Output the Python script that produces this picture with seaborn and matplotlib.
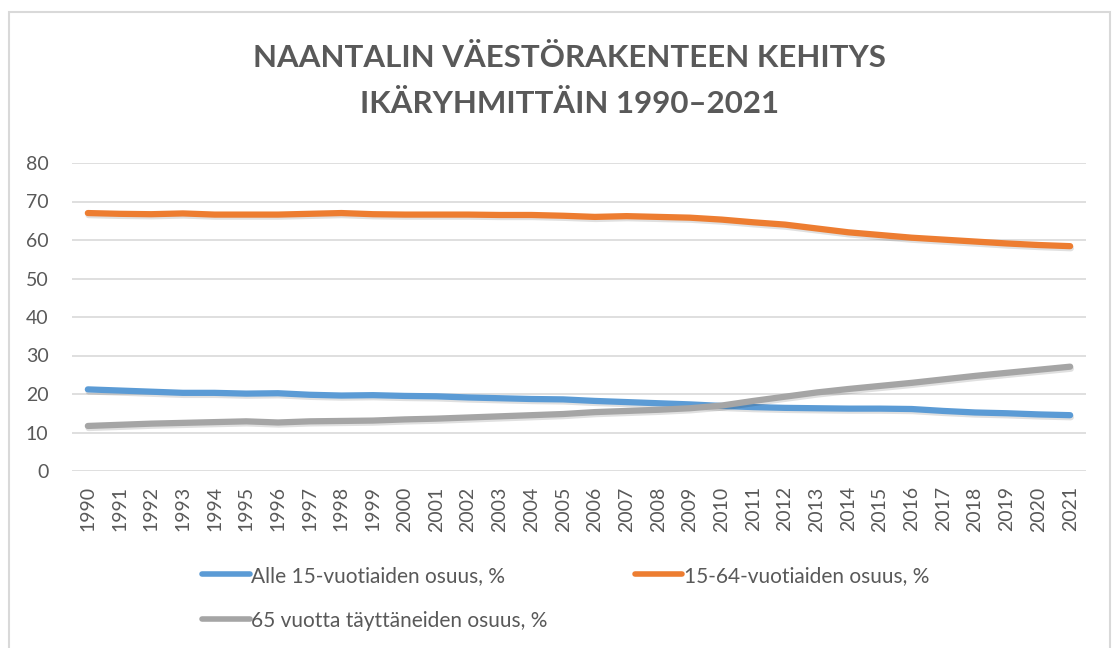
import pandas as pd
import seaborn as sns
import matplotlib.pyplot as plt
import matplotlib.patheffects as pe
from matplotlib.patches import Rectangle

years = list(range(1990, 2022))

alle15 = [21.2, 20.9, 20.6, 20.3, 20.3, 20.1, 20.2, 19.8, 19.6, 19.7, 19.5, 19.4,
          19.1, 18.9, 18.7, 18.6, 18.2, 17.9, 17.6, 17.3, 16.9, 16.6, 16.4, 16.3,
          16.2, 16.2, 16.1, 15.6, 15.2, 15.0, 14.7, 14.5]
v15_64 = [67.0, 66.8, 66.7, 66.9, 66.6, 66.6, 66.6, 66.8, 67.0, 66.7, 66.6, 66.6,
          66.6, 66.5, 66.5, 66.3, 66.0, 66.2, 66.0, 65.8, 65.3, 64.6, 64.0, 63.0,
          62.0, 61.3, 60.6, 60.1, 59.6, 59.1, 58.7, 58.4]
yli65 = [11.7, 12.0, 12.3, 12.5, 12.7, 12.9, 12.6, 12.9, 13.0, 13.1, 13.4, 13.6,
         13.9, 14.2, 14.5, 14.8, 15.3, 15.6, 15.9, 16.3, 17.0, 18.2, 19.3, 20.4,
         21.3, 22.1, 22.9, 23.8, 24.7, 25.5, 26.3, 27.1]

series_names = ["Alle 15-vuotiaiden osuus, %",
                "15-64-vuotiaiden osuus, %",
                "65 vuotta täyttäneiden osuus, %"]
colors = ["#5B9BD5", "#ED7D31", "#A5A5A5"]

df = pd.DataFrame({"vuosi": years * 3,
                   "osuus": alle15 + v15_64 + yli65,
                   "sarja": sum([[n] * len(years) for n in series_names], [])})

sns.set_style("white")
plt.rcParams['font.family'] = ['Lato', 'DejaVu Sans']
txt = "#595959"

fig = plt.figure(figsize=(11.16, 6.48), dpi=100)
fig.patches.append(Rectangle((9 / 1116, -0.01), 1101 / 1116, 1 - 12 / 648 + 0.01,
                             transform=fig.transFigure, fill=False,
                             edgecolor="#D9D9D9", linewidth=1.5))
ax = fig.add_axes([72 / 1116, 1 - 471 / 648, 1014 / 1116, 308 / 648])

sns.lineplot(data=df, x="vuosi", y="osuus", hue="sarja", palette=colors,
             linewidth=4.5, ax=ax, legend=False)
for ln in ax.lines:
    ln.set_solid_capstyle("round")
    ln.set_path_effects([pe.SimpleLineShadow(offset=(0.5, -1.5), alpha=0.12, shadow_color="black"),
                         pe.Normal()])

ax.set_xlim(1989.5, 2021.5)
ax.set_ylim(0, 80)
ax.set_yticks(range(0, 81, 10))
ax.set_xticks(years)
ax.set_xticklabels([str(y) for y in years], rotation=90)
ax.grid(axis="y", color="#D9D9D9", linewidth=1.2)
ax.set_axisbelow(True)
for s in ax.spines.values():
    s.set_visible(False)
ax.tick_params(axis="both", colors=txt, labelsize=14, length=0)
ax.tick_params(axis="y", pad=17)
ax.tick_params(axis="x", pad=11)
ax.set_xlabel("")
ax.set_ylabel("")

fig.text(0.51, 1 - 81 / 648, "NAANTALIN VÄESTÖRAKENTEEN KEHITYS\nIKÄRYHMITTÄIN 1990–2021",
         ha="center", va="center", fontsize=22.5, fontweight="bold", color=txt,
         linespacing=1.75)

# legend fills column-wise, so order handles to get the reference's row layout
order = [0, 2, 1]
handles = [plt.Line2D([], [], color=colors[i], linewidth=4, solid_capstyle="round") for i in order]
labels = [series_names[i] for i in order]
fig.legend(handles, labels, loc="upper left", bbox_to_anchor=(183 / 1116, 1 - 547 / 648),
           ncol=2, frameon=False, fontsize=15, labelcolor=txt, handlelength=2.3,
           handletextpad=0.05, columnspacing=4.2, labelspacing=1.2)

fig.savefig("out.png", dpi=100)
